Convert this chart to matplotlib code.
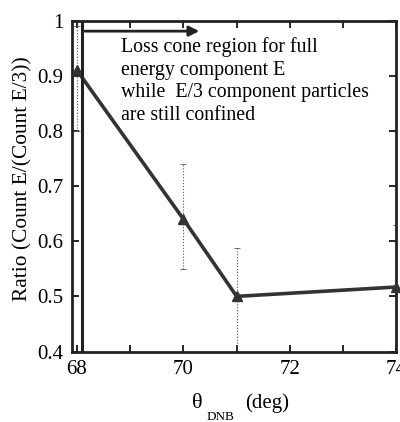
import numpy as np
import matplotlib
matplotlib.use("Agg")
import matplotlib.pyplot as plt

plt.rcParams['font.family'] = ['Liberation Serif', 'DejaVu Serif']

# data
theta = [68, 70, 71, 74]
ratio = [0.91, 0.64, 0.50, 0.517]
err_hi = [0.99, 0.74, 0.588, 0.63]
err_lo = [0.80, 0.549, 0.40, 0.40]
note_lines = ["Loss cone region for full",
              "energy component E",
              "while  E/3 component particles",
              "are still confined"]

fig = plt.figure(figsize=(4.0, 4.22), dpi=100)
ax = fig.add_axes([0.179, 0.167, 0.812, 0.784])

yerr = [np.array(ratio) - np.array(err_lo), np.array(err_hi) - np.array(ratio)]
eb = ax.errorbar(theta, ratio, yerr=yerr, fmt='none', ecolor='#555555',
                 elinewidth=0.8, capsize=2, capthick=0.6, zorder=2)
eb[2][0].set_linestyle(':')

ax.plot(theta, ratio, color='#333333', lw=2.6, marker='^', ms=7,
        mfc='#333333', mec='#333333', zorder=3, clip_on=False)

# loss cone boundary and arrow
ax.axvline(68.1, color='#222222', lw=2.2, zorder=4)
ax.annotate("", xy=(70.35, 0.981), xytext=(68.1, 0.981),
            arrowprops=dict(arrowstyle='-|>', color='#222222', lw=2.0,
                            mutation_scale=15))
for i, s in enumerate(note_lines):
    ax.text(68.83, 0.952 - i * 0.0415, s, fontsize=14.3, va='center', ha='left')

ax.set_xlim(67.9, 74)
ax.set_ylim(0.4, 1.0)
ax.set_xticks(np.arange(68, 75, 1))
ax.set_xticklabels(['68', '', '70', '', '72', '', '74'])
ax.set_yticks(np.arange(0.4, 1.01, 0.1))
ax.set_yticklabels(['0.4', '0.5', '0.6', '0.7', '0.8', '0.9', '1'])
ax.tick_params(direction='in', length=5, width=1.2, labelsize=15,
               top=True, right=True, pad=6)
for sp in ax.spines.values():
    sp.set_linewidth(2.0)
    sp.set_color('#222222')

ax.set_ylabel("Ratio (Count E/(Count E/3))", fontsize=15.4)
ax.yaxis.set_label_coords(-0.12, 0.523)

# x label built in pieces: the subscript sits well below the baseline
fig.text(0.48, 0.034, "θ", fontsize=16, ha='left', va='baseline')
fig.text(0.5175, 0.004, "DNB", fontsize=9.5, ha='left', va='baseline')
fig.text(0.6125, 0.034, "(deg)", fontsize=15, ha='left', va='baseline')

fig.savefig("out.png", dpi=100)
